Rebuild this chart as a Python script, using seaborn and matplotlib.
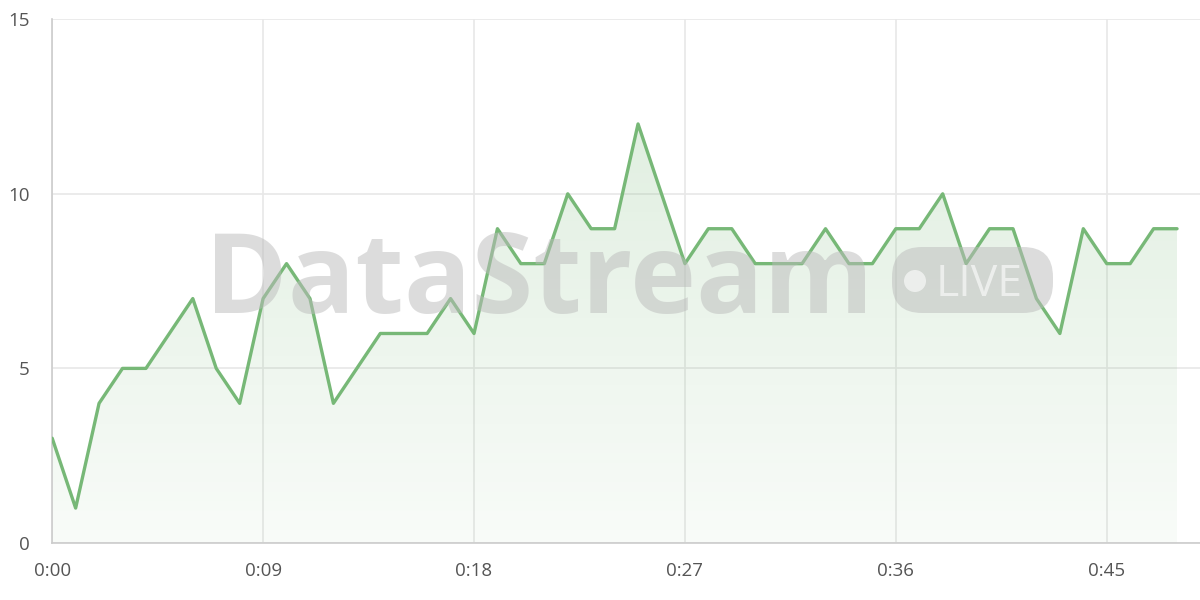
#!/usr/bin/env python3

import numpy as np
import pandas as pd
import matplotlib
matplotlib.use("Agg")
import matplotlib.pyplot as plt
from matplotlib.ticker import FuncFormatter
from matplotlib.patches import FancyBboxPatch, Circle
import seaborn as sns

# one sample per second
seconds = list(range(49))
values = [3, 1, 4, 5, 5, 6, 7, 5, 4, 7,
          8, 7, 4, 5, 6, 6, 6, 7, 6, 9,
          8, 8, 10, 9, 9, 12, 10, 8, 9, 9,
          8, 8, 8, 9, 8, 8, 9, 9, 10, 8,
          9, 9, 7, 6, 9, 8, 8, 9, 9]
x_ticks = [0, 9, 18, 27, 36, 45]
y_ticks = [0, 5, 10, 15]

line_color = "#77b877"
grid_color = "#e8e8e8"
text_color = "#555555"
mark_color = "#bbbbbb"


def fmt_time(s, pos=None):
    s = int(round(s))
    return f"{s // 60}:{s % 60:02d}"


def main():
    df = pd.DataFrame({"t": seconds, "v": values})

    sns.set_theme(style="white")
    plt.rcParams["font.family"] = ["Open Sans", "DejaVu Sans"]

    fig = plt.figure(figsize=(12, 6), dpi=100)
    ax = fig.add_axes([0.0435, 0.095, 0.9565, 0.873])

    ax.set_xlim(0, 48.98)
    ax.set_ylim(0, 15)

    # gradient area under the line
    poly = ax.fill_between(df["t"], df["v"], 0, color="none", lw=0)
    grad = np.linspace(0.05, 0.22, 256).reshape(-1, 1)
    rgba = np.zeros((256, 1, 4))
    rgba[..., 0] = 0.47
    rgba[..., 1] = 0.72
    rgba[..., 2] = 0.47
    rgba[..., 3] = grad
    img = ax.imshow(rgba, extent=[0, 48, 0, 12], origin="lower",
                    aspect="auto", zorder=1)
    img.set_clip_path(poly.get_paths()[0], transform=ax.transData)

    sns.lineplot(data=df, x="t", y="v", ax=ax, color=line_color,
                 linewidth=2.4, zorder=3)

    # watermark (positions in inches, figure is 12x6 in)
    inch = fig.dpi_scale_trans
    fig.text(2.05, 2.87, "DataStream", transform=inch,
             fontsize=80.5, fontweight="bold", color=mark_color, alpha=0.5,
             ha="left", va="baseline", zorder=2)
    box = FancyBboxPatch((8.92, 2.87), 1.61, 0.66,
                         boxstyle="round,pad=0,rounding_size=0.3",
                         transform=inch, facecolor=mark_color,
                         alpha=0.5, edgecolor="none", zorder=2)
    fig.patches.append(box)
    dot = Circle((9.15, 3.19), 0.11, transform=inch, facecolor="white",
                 alpha=0.6, edgecolor="none", zorder=3)
    fig.patches.append(dot)
    fig.text(9.36, 3.04, "LIVE", transform=inch, color="white", alpha=0.6,
             fontsize=32, ha="left", va="baseline", zorder=3)

    ax.set_xticks(x_ticks)
    ax.xaxis.set_major_formatter(FuncFormatter(fmt_time))
    ax.set_yticks(y_ticks)
    ax.grid(True, color=grid_color, linewidth=1.2, zorder=0)
    ax.set_axisbelow(True)
    ax.set_xlabel("")
    ax.set_ylabel("")

    for side in ["top", "right"]:
        ax.spines[side].set_visible(False)
    for side in ["left", "bottom"]:
        ax.spines[side].set_color("#cccccc")
        ax.spines[side].set_linewidth(1.2)

    ax.tick_params(axis="both", colors=grid_color, labelcolor=text_color,
                   labelsize=13.5, length=10, width=1.2)
    ax.tick_params(axis="y", pad=6)
    ax.tick_params(axis="x", pad=4)

    fig.savefig("out.png", dpi=100)
    plt.close("all")


if __name__ == "__main__":
    main()
